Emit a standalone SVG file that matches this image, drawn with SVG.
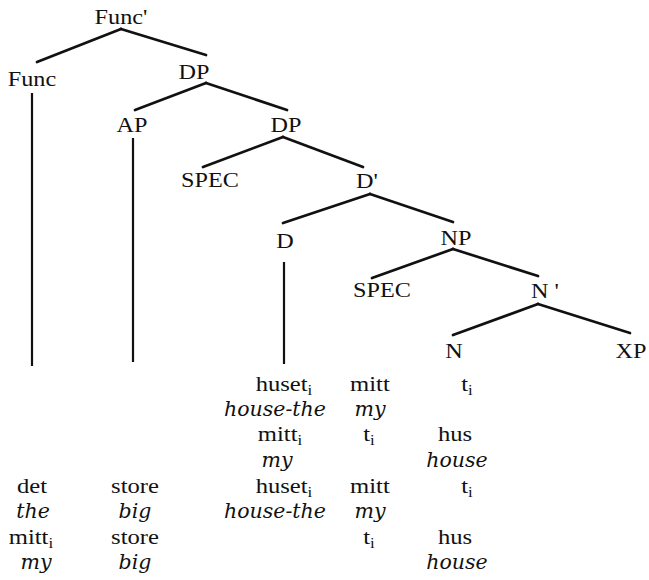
<svg xmlns="http://www.w3.org/2000/svg" width="649" height="580" viewBox="0 0 649 580">
<style>
.lbl{font-family:"Liberation Serif","Times New Roman",serif;font-size:22px;fill:#111;text-anchor:middle;transform-box:fill-box;transform-origin:center;transform:scaleX(1.1)}
.w{font-family:"Liberation Serif","Times New Roman",serif;font-size:22px;fill:#111;text-anchor:middle;transform-box:fill-box;transform-origin:center;transform:scaleX(1.12)}
.g{font-family:"DejaVu Serif",serif;font-style:italic;font-size:20.5px;fill:#111;text-anchor:middle}
.sub{font-size:15px}
.e{stroke:#111;stroke-width:2.7;stroke-linecap:round;fill:none}
.v{stroke:#111;stroke-width:2.2;fill:none}
</style>
<rect width="649" height="580" fill="#fff"/>
<g id="connectors">
<line class="e" x1="121" y1="29" x2="37" y2="62"/>
<line class="e" x1="121" y1="29" x2="206" y2="55"/>
<line class="e" x1="206" y1="83" x2="135" y2="110"/>
<line class="e" x1="206" y1="83" x2="287" y2="110"/>
<line class="e" x1="283" y1="137" x2="203" y2="167"/>
<line class="e" x1="283" y1="137" x2="363" y2="167"/>
<line class="e" x1="370" y1="194" x2="283" y2="223"/>
<line class="e" x1="370" y1="194" x2="453" y2="222"/>
<line class="e" x1="453" y1="249" x2="372" y2="278"/>
<line class="e" x1="453" y1="249" x2="538" y2="276"/>
<line class="e" x1="538" y1="304" x2="453" y2="335"/>
<line class="e" x1="538" y1="304" x2="630" y2="333"/>
<line class="v" x1="32" y1="93" x2="32" y2="366"/>
<line class="v" x1="133" y1="138" x2="133" y2="362"/>
<line class="v" x1="284" y1="262" x2="284" y2="364"/>
</g>
<g id="n-funcbar"><text class="lbl" x="121" y="24">Func'</text></g>
<g id="n-func"><text class="lbl" x="32" y="86">Func</text></g>
<g id="n-dp1"><text class="lbl" x="194" y="79">DP</text></g>
<g id="n-ap"><text class="lbl" x="132" y="132">AP</text></g>
<g id="n-dp2"><text class="lbl" x="286" y="132">DP</text></g>
<g id="n-spec1"><text class="lbl" x="210" y="187">SPEC</text></g>
<g id="n-dbar"><text class="lbl" x="367" y="188">D'</text></g>
<g id="n-d"><text class="lbl" x="285" y="248">D</text></g>
<g id="n-np"><text class="lbl" x="456" y="245">NP</text></g>
<g id="n-spec2"><text class="lbl" x="382" y="297">SPEC</text></g>
<g id="n-nbar"><text class="lbl" x="545" y="298">N '</text></g>
<g id="n-n"><text class="lbl" x="454" y="358">N</text></g>
<g id="n-xp"><text class="lbl" x="631" y="358">XP</text></g>
<g id="words">
<text class="w" x="284" y="391">huset<tspan class="sub" dy="4">i</tspan></text>
<text class="w" x="370" y="391">mitt</text>
<text class="w" x="467" y="391">t<tspan class="sub" dy="4">i</tspan></text>
<text class="g" x="275" y="416">house-the</text>
<text class="g" x="370" y="416">my</text>
<text class="w" x="280" y="441">mitt<tspan class="sub" dy="4">i</tspan></text>
<text class="w" x="369" y="441">t<tspan class="sub" dy="4">i</tspan></text>
<text class="w" x="455" y="441">hus</text>
<text class="g" x="277" y="467">my</text>
<text class="g" x="457" y="467">house</text>
<text class="w" x="32" y="493">det</text>
<text class="w" x="135" y="493">store</text>
<text class="w" x="284" y="493">huset<tspan class="sub" dy="4">i</tspan></text>
<text class="w" x="370" y="493">mitt</text>
<text class="w" x="467" y="493">t<tspan class="sub" dy="4">i</tspan></text>
<text class="g" x="33" y="518">the</text>
<text class="g" x="135" y="518">big</text>
<text class="g" x="275" y="518">house-the</text>
<text class="g" x="370" y="518">my</text>
<text class="w" x="31" y="544">mitt<tspan class="sub" dy="4">i</tspan></text>
<text class="w" x="135" y="544">store</text>
<text class="w" x="369" y="544">t<tspan class="sub" dy="4">i</tspan></text>
<text class="w" x="455" y="544">hus</text>
<text class="g" x="36" y="569">my</text>
<text class="g" x="135" y="569">big</text>
<text class="g" x="457" y="569">house</text>
</g>
</svg>
